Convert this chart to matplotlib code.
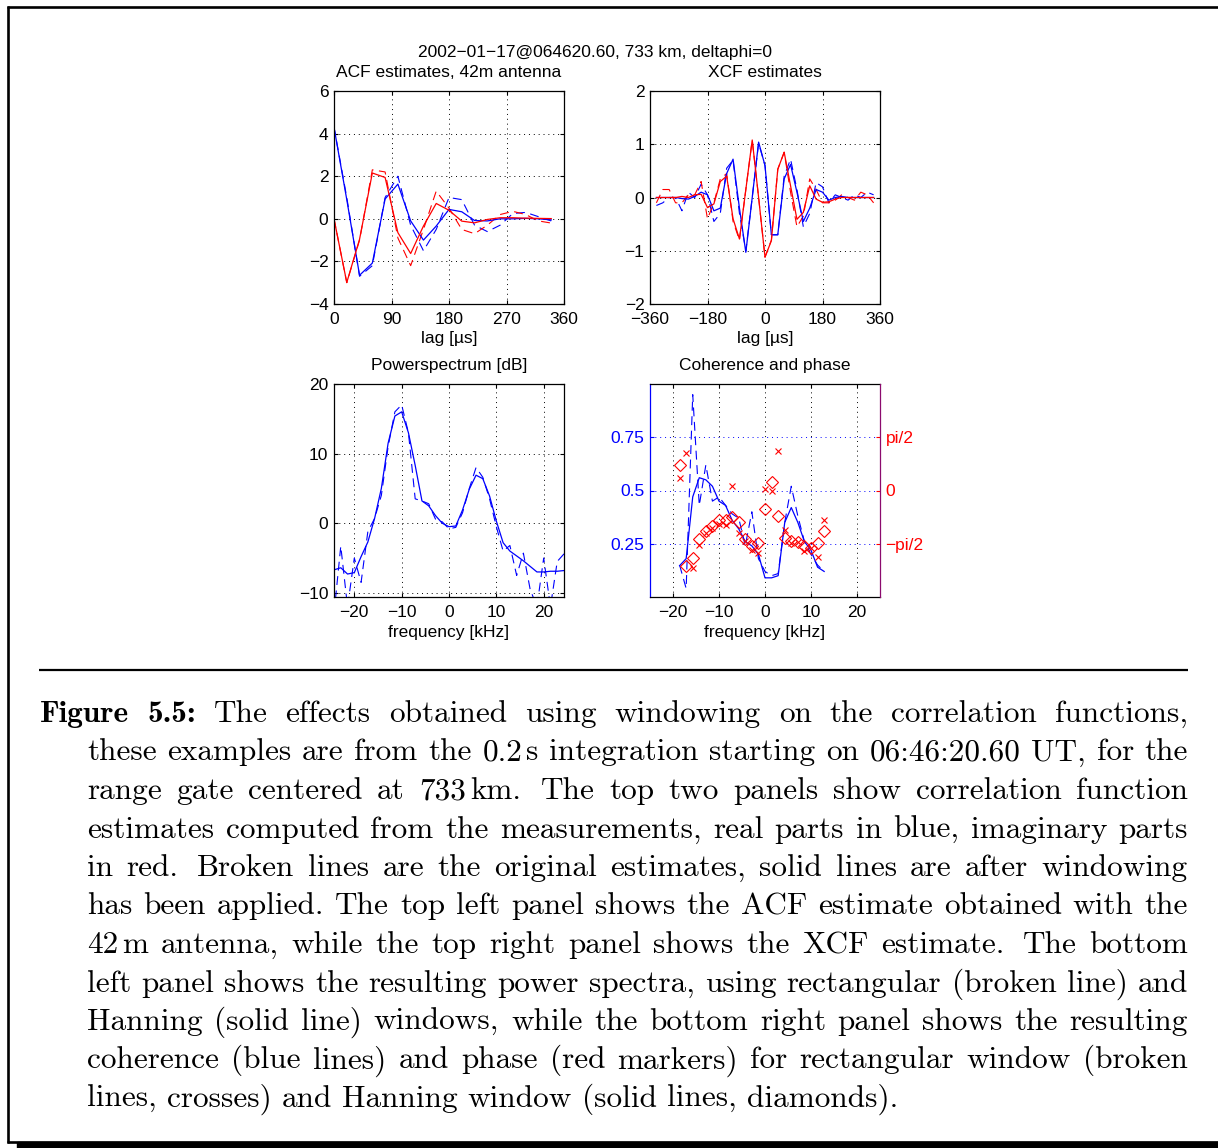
import numpy as np
import matplotlib
matplotlib.use("Agg")
import matplotlib.pyplot as plt
from matplotlib.lines import Line2D
from matplotlib.patches import Rectangle

W, H = 1218, 1148

# ACF, 42m antenna (lag in microseconds)
acf_lags = [0, 20, 40, 60, 80, 100, 120, 140, 160, 180, 200, 220, 240, 260, 280, 300, 320, 340]
acf_re_win = [4.3, 0.9, -2.65, -2.08, 0.93, 1.63, -0.1, -1.0, -0.34, 0.44, 0.33, -0.08, -0.1, 0.0, 0.0, 0.02, 0.0, -0.05]
acf_im_win = [0.0, -2.99, -0.96, 2.15, 1.94, -0.65, -1.63, -0.34, 0.72, 0.4, -0.11, -0.19, -0.03, 0.05, 0.05, 0.03, 0.02, 0.01]
acf_re_raw = [4.3, 1.0, -2.7, -2.2, 1.0, 2.0, -0.3, -1.5, -0.5, 1.0, 0.9, -0.3, -0.6, -0.3, 0.25, 0.3, 0.1, -0.1]
acf_im_raw = [0.0, -3.0, -1.0, 2.3, 2.2, -0.9, -2.2, -0.5, 1.3, 0.5, -0.5, -0.7, -0.3, 0.2, 0.35, 0.2, -0.1, -0.2]

# XCF
xcf_lags = [-340, -320, -300, -280, -260, -240, -220, -200, -180, -160, -140, -120, -100, -80, -60, -40, -20,
            0, 20, 40, 60, 80, 100, 120, 140, 160, 180, 200, 220, 240, 260, 280, 300, 320, 340]
xcf_re_win = [0.0, 0.0, 0.0, 0.0, -0.02, -0.03, 0.02, 0.1, 0.05, -0.25, -0.2, 0.45, 0.72, -0.2, -1.03, 0.0, 1.04,
              0.6, -0.7, -0.7, 0.35, 0.62, 0.1, -0.45, -0.2, 0.15, 0.1, -0.05, 0.0, 0.02, 0.0, 0.0, 0.0, 0.0, 0.0]
xcf_im_win = [0.0, 0.0, 0.0, 0.0, 0.02, 0.0, 0.05, 0.06, -0.19, -0.12, 0.3, 0.4, -0.4, -0.78, 0.15, 1.08, 0.0,
              -1.12, -0.81, 0.53, 0.85, 0.22, -0.41, -0.28, 0.22, -0.03, -0.09, -0.08, -0.03, 0.0, 0.0, 0.0, 0.0, 0.0, 0.0]
xcf_re_raw = [-0.15, -0.1, 0.0, 0.0, -0.25, 0.1, 0.0, 0.25, 0.05, -0.45, -0.3, 0.55, 0.7, -0.3, -1.0, 0.0, 1.02,
              0.6, -0.7, -0.7, 0.4, 0.72, 0.15, -0.55, -0.3, 0.28, 0.2, -0.1, 0.05, 0.0, -0.05, 0.05, 0.0, 0.1, 0.05]
xcf_im_raw = [-0.1, 0.15, 0.15, -0.1, -0.1, 0.05, 0.05, 0.3, -0.4, -0.1, 0.35, 0.45, -0.45, -0.8, 0.15, 1.08, 0.0,
              -1.12, -0.8, 0.53, 0.85, 0.1, -0.55, -0.35, 0.35, 0.15, -0.1, -0.1, -0.05, 0.05, 0.0, -0.05, 0.1, 0.05, -0.1]

# power spectrum (kHz, dB)
freqs = [-24.29, -22.86, -21.43, -20.0, -18.57, -17.14, -15.71, -14.29, -12.86, -11.43, -10.0, -8.57, -7.14,
         -5.71, -4.29, -2.86, -1.43, 0.0, 1.43, 2.86, 4.29, 5.71, 7.14, 8.57, 10.0, 11.43, 12.86, 14.29, 15.71,
         17.14, 18.57, 20.0, 21.43, 22.86, 24.29]
spec_hann = [-6.7, -6.4, -7.3, -7.1, -4.8, -2.7, 0.7, 5.0, 11.5, 15.4, 16.0, 13.0, 8.3, 3.2, 2.5, 1.1, 0.0, -0.5,
             -0.4, 1.9, 4.9, 6.9, 6.4, 3.9, 0.3, -2.8, -4.0, -4.7, -5.4, -6.2, -7.0, -7.0, -6.9, -6.9, -6.8]
spec_rect = [-13.0, -3.3, -12.0, -5.0, -8.5, -1.2, 0.7, 4.0, 11.0, 16.0, 17.0, 13.0, 3.5, 3.2, 2.8, 0.6, 0.2, -0.8,
             -0.6, 1.5, 5.0, 8.0, 6.6, 3.5, -0.5, -4.0, -3.2, -7.5, -4.3, -9.5, -12.0, -5.0, -12.0, -5.5, -4.4]

# coherence and phase (phase in units of pi)
coh_freqs = [-18.57, -17.14, -15.71, -14.29, -12.86, -11.43, -10.0, -8.57, -7.14, -5.71, -4.29, -2.86, -1.43,
             0.0, 1.43, 2.86, 4.29, 5.71, 7.14, 8.57, 10.0, 11.43, 12.86]
coh_hann = [0.147, 0.18, 0.47, 0.56, 0.55, 0.52, 0.45, 0.43, 0.36, 0.32, 0.26, 0.24, 0.2, 0.09, 0.09, 0.1, 0.35,
            0.42, 0.35, 0.26, 0.22, 0.14, 0.12]
coh_rect = [0.15, 0.04, 0.95, 0.43, 0.62, 0.45, 0.47, 0.43, 0.39, 0.37, 0.24, 0.40, 0.18, 0.12, 0.10, 0.11, 0.35,
            0.52, 0.38, 0.26, 0.20, 0.15, 0.12]
phase_hann = [0.24, -0.71, -0.63, -0.46, -0.38, -0.33, -0.28, -0.28, -0.25, -0.30, -0.46, -0.52, -0.49, -0.17,
              0.08, -0.24, -0.45, -0.47, -0.48, -0.52, -0.54, -0.49, -0.38]
phase_rect = [0.12, 0.35, -0.73, -0.51, -0.40, -0.35, -0.31, -0.32, 0.04, -0.40, -0.47, -0.56, -0.59, 0.01, 0.0,
              0.37, -0.37, -0.49, -0.48, -0.57, -0.54, -0.62, -0.28]

caption_lines = [
    "*Figure *5.5: The effects obtained using windowing on the correlation functions,",
    "these examples are from the 0.2~s integration starting on 06:46:20.60 UT, for the",
    "range gate centered at 733~km.  The top two panels show correlation function",
    "estimates computed from the measurements, real parts in blue, imaginary parts",
    "in red.  Broken lines are the original estimates, solid lines are after windowing",
    "has been applied. The top left panel shows the ACF estimate obtained with the",
    "42~m antenna, while the top right panel shows the XCF estimate.  The bottom",
    "left panel shows the resulting power spectra, using rectangular (broken line) and",
    "Hanning (solid line) windows, while the bottom right panel shows the resulting",
    "coherence (blue lines) and phase (red markers) for rectangular window (broken",
    "lines, crosses) and Hanning window (solid lines, diamonds).",
]

plt.rcParams['font.family'] = ['Liberation Sans', 'DejaVu Sans']
plt.rcParams['font.size'] = 12.5
plt.rcParams['axes.unicode_minus'] = True

BLUE = '#0000ff'
RED = '#ff0000'
DASH = (0, (8, 5))
GRID = dict(color='k', linestyle=(0, (1, 4)), linewidth=0.7)
FS = 12.5

fig = plt.figure(figsize=(W / 100, H / 100), dpi=100)


def px_axes(left, top, right, bottom):
    return fig.add_axes([left / W, 1 - bottom / H, (right - left) / W, (bottom - top) / H])


def matlab_style(ax):
    ax.tick_params(direction='in', length=3, top=True, right=True, labelsize=FS)
    ax.tick_params(axis='x', pad=6)
    ax.tick_params(axis='y', pad=4)
    for s in ax.spines.values():
        s.set_linewidth(0.9)
    ax.grid(True, **GRID)


# top left: ACF
ax1 = px_axes(334, 91, 564, 304)
ax1.plot(acf_lags, acf_re_raw, color=BLUE, lw=0.8, linestyle=DASH)
ax1.plot(acf_lags, acf_im_raw, color=RED, lw=0.8, linestyle=DASH)
ax1.plot(acf_lags, acf_re_win, color=BLUE, lw=0.9)
ax1.plot(acf_lags, acf_im_win, color=RED, lw=0.9)
ax1.set_xlim(0, 360)
ax1.set_ylim(-4, 6)
ax1.set_xticks([0, 90, 180, 270, 360])
ax1.set_yticks([-4, -2, 0, 2, 4, 6])
matlab_style(ax1)
ax1.set_title('ACF estimates, 42m antenna', fontsize=FS, pad=10)
ax1.set_xlabel('lag [µs]', fontsize=FS, labelpad=3)

# top right: XCF
ax2 = px_axes(650, 91, 880, 304)
ax2.plot(xcf_lags, xcf_re_raw, color=BLUE, lw=0.8, linestyle=DASH)
ax2.plot(xcf_lags, xcf_im_raw, color=RED, lw=0.8, linestyle=DASH)
ax2.plot(xcf_lags, xcf_re_win, color=BLUE, lw=0.9)
ax2.plot(xcf_lags, xcf_im_win, color=RED, lw=0.9)
ax2.set_xlim(-360, 360)
ax2.set_ylim(-2, 2)
ax2.set_xticks([-360, -180, 0, 180, 360])
ax2.set_yticks([-2, -1, 0, 1, 2])
matlab_style(ax2)
ax2.set_title('XCF estimates', fontsize=FS, pad=10)
ax2.set_xlabel('lag [µs]', fontsize=FS, labelpad=3)

# bottom left: power spectrum
ax3 = px_axes(334, 384, 564, 597)
ax3.plot(freqs, spec_rect, color=BLUE, lw=0.8, linestyle=DASH)
ax3.plot(freqs, spec_hann, color=BLUE, lw=0.9)
ax3.set_xlim(freqs[0], freqs[-1])
ax3.set_ylim(-10.6, 20)
ax3.set_xticks([-20, -10, 0, 10, 20])
ax3.set_yticks([-10, 0, 10, 20])
matlab_style(ax3)
ax3.set_title('Powerspectrum [dB]', fontsize=FS, pad=10)
ax3.set_xlabel('frequency [kHz]', fontsize=FS, labelpad=3)

# bottom right: coherence (left axis) and phase (right axis)
ax4 = px_axes(650, 384, 880, 597)
ax4.plot(coh_freqs, coh_rect, color=BLUE, lw=0.8, linestyle=DASH)
ax4.plot(coh_freqs, coh_hann, color=BLUE, lw=0.9)
ax4.set_xlim(-25, 25)
ax4.set_ylim(0, 1)
ax4.set_xticks([-20, -10, 0, 10, 20])
ax4.set_yticks([0.25, 0.5, 0.75])
ax4.set_yticklabels(['0.25', '0.5', '0.75'])
ax4.tick_params(direction='in', length=3, top=True, right=False, labelsize=FS)
ax4.tick_params(axis='x', pad=6)
ax4.tick_params(axis='y', colors=BLUE, pad=4)
ax4.xaxis.grid(True, **GRID)
ax4.yaxis.grid(True, color=BLUE, linestyle=(0, (1, 4)), linewidth=0.7)
for s in ax4.spines.values():
    s.set_linewidth(0.9)
ax4.spines['left'].set_color(BLUE)
ax4.spines['right'].set_visible(False)
ax4.set_title('Coherence and phase', fontsize=FS, pad=10)
ax4.set_xlabel('frequency [kHz]', fontsize=FS, labelpad=3)

ax4r = ax4.twinx()
ax4r.plot(coh_freqs, phase_rect, linestyle='none', marker='x', color=RED, markersize=4, markeredgewidth=0.8)
ax4r.plot(coh_freqs, phase_hann, linestyle='none', marker='D', color=RED, markerfacecolor='none',
          markersize=6, markeredgewidth=0.8)
ax4r.set_ylim(-1, 1)
ax4r.set_yticks([-0.5, 0, 0.5])
ax4r.set_yticklabels(['−pi/2', '0', 'pi/2'])
ax4r.tick_params(axis='y', direction='in', length=3, colors=RED, labelsize=FS, pad=4)
for side in ['left', 'top', 'bottom']:
    ax4r.spines[side].set_visible(False)
ax4r.spines['right'].set_color('#8b0a6e')
ax4r.spines['right'].set_linewidth(0.9)

fig.text(595 / W, 1 - 53 / H, '2002−01−17@064620.60, 733 km, deltaphi=0', ha='center', va='center', fontsize=FS)

# frame, shadow and rule
def hline(x0, x1, y, lw):
    fig.add_artist(Line2D([x0 / W, x1 / W], [1 - y / H, 1 - y / H], color='k', lw=lw, solid_capstyle='butt'))


def vline(x, y0, y1, lw):
    fig.add_artist(Line2D([x / W, x / W], [1 - y0 / H, 1 - y1 / H], color='k', lw=lw, solid_capstyle='butt'))


hline(7, W, 7, 1.9)
vline(8, 6, 1143, 1.9)
hline(7, W, 1141.5, 1.9)
fig.add_artist(Rectangle((17 / W, 0), 1 - 17 / W, 6 / H, color='k', transform=fig.transFigure))
hline(39, 1188, 669.5, 1.6)

# justified caption
renderer = fig.canvas.get_renderer()
cap_size = 22.5
thin = 4
for i, line in enumerate(caption_lines):
    y = 1 - (722 + 38.5 * i) / H
    x_left = 40 if i == 0 else 87
    x_right = 1188
    # words and the weight of the gap after each (double space = sentence gap)
    words, weights = [], []
    wide = False
    for tok in line.split(' '):
        if tok == '':
            wide = True
            continue
        if words:
            weights.append(1.4 if wide else 1.0)
        wide = False
        words.append(tok)
    items = []
    for w in words:
        bold = w.startswith('*')
        w = w.lstrip('*')
        parts = []
        for part in w.split('~'):
            t = fig.text(0, y, part, fontsize=cap_size, va='baseline', ha='left',
                         family=['cmb10' if bold else 'cmr10', 'DejaVu Serif'])
            parts.append((t, t.get_window_extent(renderer).width))
        width = sum(p[1] for p in parts) + thin * (len(parts) - 1)
        items.append((parts, width))
    total = sum(it[1] for it in items)
    last = i == len(caption_lines) - 1
    if last or len(items) < 2:
        unit = 10.0
    else:
        unit = (x_right - x_left - total) / sum(weights)
    x = x_left
    for k, (parts, width) in enumerate(items):
        px = x
        for t, pw in parts:
            t.set_x(px / W)
            px += pw + thin
        x += width
        if k < len(weights):
            x += unit * weights[k]

fig.savefig('out.png', dpi=100)
